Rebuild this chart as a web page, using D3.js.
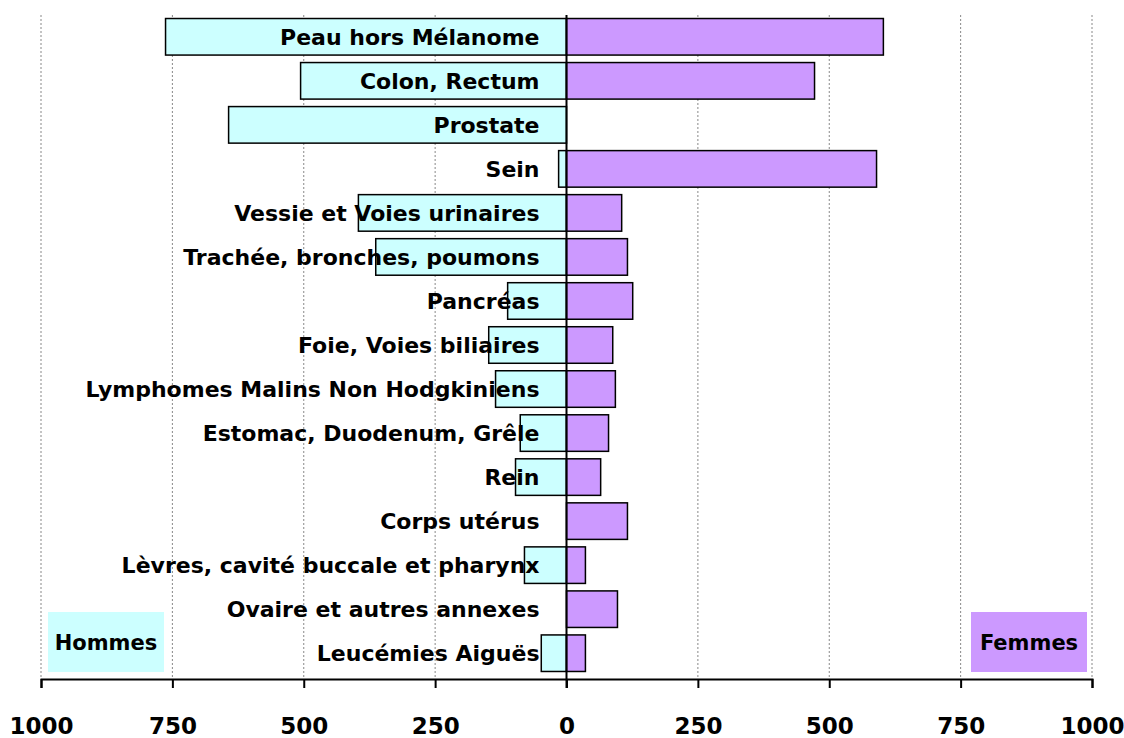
<!DOCTYPE html>
<html>
<head>
<meta charset="utf-8">
<script src="https://cdn.jsdelivr.net/npm/d3@7"></script>
<style>
body { margin: 0; background: #fff; }
text { font-family: "DejaVu Sans", sans-serif; font-weight: bold; }
</style>
</head>
<body>
<svg id="chart" width="1124" height="738"></svg>
<script>
const categories = ["Peau hors Mélanome", "Colon, Rectum", "Prostate", "Sein",
	"Vessie et Voies urinaires", "Trachée, bronches, poumons", "Pancréas",
	"Foie, Voies biliaires", "Lymphomes Malins Non Hodgkiniens",
	"Estomac, Duodenum, Grêle", "Rein", "Corps utérus",
	"Lèvres, cavité buccale et pharynx", "Ovaire et autres annexes", "Leucémies Aiguës"];
const hommes = [763, 506, 643, 15, 396, 363, 112, 148, 135, 88, 97, 0, 80, 0, 48];
const femmes = [603, 472, 0, 590, 105, 116, 126, 88, 93, 80, 65, 116, 36, 97, 36];
const tick_values = [-1000, -750, -500, -250, 0, 250, 500, 750, 1000];

const svg = d3.select("#chart");
const top_y = 15, axis_y = 679;
const x = d3.scaleLinear().domain([-1000, 1000]).range([41, 1092]);
const y = d3.scaleBand().domain(categories).range([top_y, axis_y - 4]).paddingInner(0.17).paddingOuter(0.08);

// grid
svg.selectAll(".grid").data(tick_values.filter(d => d != 0)).enter()
	.append("line")
	.attr("x1", d => x(d)).attr("x2", d => x(d))
	.attr("y1", top_y).attr("y2", axis_y)
	.style("stroke", "#888").style("stroke-width", 1).style("stroke-dasharray", "2,2");

// bars
const data = categories.map((c, i) => ({c: c, h: hommes[i], f: femmes[i]}));
svg.selectAll(".bh").data(data.filter(d => d.h > 0)).enter()
	.append("rect")
	.attr("x", d => x(-d.h)).attr("width", d => x(0) - x(-d.h))
	.attr("y", d => y(d.c)).attr("height", y.bandwidth())
	.style("fill", "#ccffff").style("stroke", "#000").style("stroke-width", 1.5);
svg.selectAll(".bf").data(data.filter(d => d.f > 0)).enter()
	.append("rect")
	.attr("x", x(0)).attr("width", d => x(d.f) - x(0))
	.attr("y", d => y(d.c)).attr("height", y.bandwidth())
	.style("fill", "#cc99ff").style("stroke", "#000").style("stroke-width", 1.5);

// zero line
svg.append("line")
	.attr("x1", x(0)).attr("x2", x(0)).attr("y1", top_y).attr("y2", axis_y + 9)
	.style("stroke", "#000").style("stroke-width", 2);

// category labels
svg.selectAll(".lab").data(categories).enter()
	.append("text")
	.attr("x", x(0) - 27)
	.attr("y", d => y(d) + y.bandwidth() / 2)
	.attr("dy", "0.36em")
	.attr("text-anchor", "end")
	.style("font-size", "22px")
	.text(d => d);

// axis
const axis = svg.append("g").attr("transform", `translate(0,${axis_y})`)
	.call(d3.axisBottom(x).tickValues(tick_values).tickSize(9).tickPadding(30)
		.tickFormat(d => Math.abs(d)));
axis.select(".domain").style("stroke-width", 2);
axis.selectAll(".tick line").style("stroke-width", 2);
axis.selectAll("text").style("font-size", "23px").style("font-family", "DejaVu Sans").style("font-weight", "bold");

// legend boxes
const legend = [{t: "Hommes", x0: 48, fill: "#ccffff"}, {t: "Femmes", x0: 971, fill: "#cc99ff"}];
svg.selectAll(".leg").data(legend).enter()
	.append("rect")
	.attr("x", d => d.x0).attr("y", 612).attr("width", 116).attr("height", 60)
	.style("fill", d => d.fill);
svg.selectAll(".legt").data(legend).enter()
	.append("text")
	.attr("x", d => d.x0 + 58).attr("y", 642).attr("dy", "0.36em")
	.attr("text-anchor", "middle")
	.style("font-size", "21px")
	.text(d => d.t);
</script>
</body>
</html>
